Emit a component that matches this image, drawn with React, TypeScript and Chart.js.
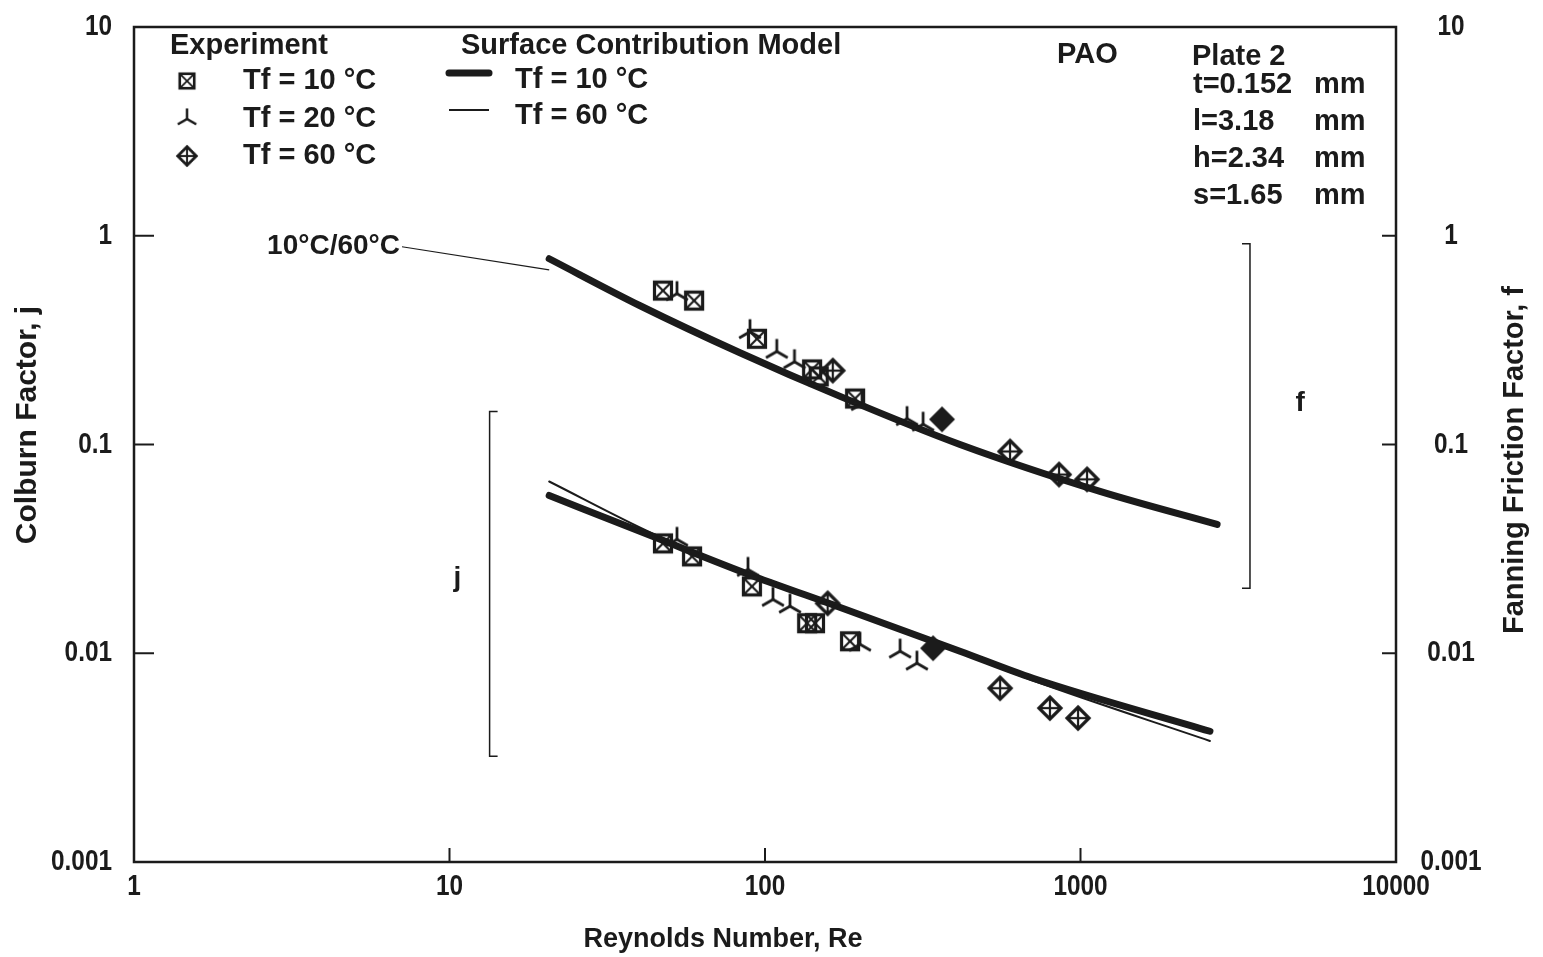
import React, { useEffect, useRef } from 'react';
import { Chart, registerables } from 'chart.js';

Chart.register(...registerables);

// ---------- axis ticks ----------
const xTicks = [1, 10, 100, 1000, 10000];
const xTickLabels = ['1', '10', '100', '1000', '10000'];
const yTicks = [0.001, 0.01, 0.1, 1, 10];
const yTickLabels = ['0.001', '0.01', '0.1', '1', '10'];

// ---------- Surface Contribution Model curves ----------
// friction factor f (10 °C and 60 °C coincide)
const fModelRe = [20.7, 40.2, 83.3, 173, 415, 1153, 2710];
const fModel10 = [0.776, 0.462, 0.275, 0.17, 0.1, 0.0596, 0.0414];
const fModel60 = [0.776, 0.462, 0.275, 0.17, 0.1, 0.0596, 0.0414];
// Colburn factor j
const jModelRe = [20.7, 44, 92, 169, 415, 707, 2572];
const jModel10 = [0.057, 0.0363, 0.0234, 0.0168, 0.01023, 0.00759, 0.00423];
const jModel60 = [0.0665, 0.0375, 0.0235, 0.0167, 0.0101, 0.0074, 0.0038];

// ---------- Experiment: friction factor f ----------
const f10Re = [47.5, 59.6, 94.3, 141, 148, 193];
const f10 = [0.546, 0.489, 0.321, 0.229, 0.212, 0.166];
const f20Re = [52.6, 89.6, 109, 124, 203, 282, 317];
const f20 = [0.528, 0.347, 0.279, 0.249, 0.157, 0.133, 0.125];
const f60Re = [164, 598, 855, 1049];
const f60 = [0.226, 0.0926, 0.0718, 0.0681];
const f60FilledRe = [364];
const f60Filled = [0.132];

// ---------- Experiment: Colburn factor j ----------
const j10Re = [47.5, 58.7, 90.9, 136, 144, 186];
const j10 = [0.0336, 0.0291, 0.0209, 0.01393, 0.01393, 0.01141];
const j20Re = [52.6, 88.3, 106, 120, 200, 268, 303];
const j20 = [0.0351, 0.0252, 0.0181, 0.0168, 0.01104, 0.01023, 0.00896];
const j60Re = [158, 556, 800, 982];
const j60 = [0.01734, 0.0068, 0.00546, 0.00489];
const j60FilledRe = [341];
const j60Filled = [0.01057];

// ---------- annotations (data coordinates) ----------
const jBracketRe = 13.4;
const jBracketRange = [0.00321, 0.144];
const fBracketRe = 3445;
const fBracketRange = [0.0205, 0.916];
const jLabelPos = [10.6, 0.0229];
const fLabelPos = [4966, 0.157];
const leaderFrom = [7.07, 0.886];
const leaderTo = [20.7, 0.687];

const INK = '#1b1b1b';
const FONT = '"Liberation Sans", Arial, Helvetica, sans-serif';

function mk(size: number, draw: (c: CanvasRenderingContext2D, s: number) => void) {
  const cv = document.createElement('canvas');
  cv.width = size;
  cv.height = size;
  const c = cv.getContext('2d')!;
  c.strokeStyle = INK;
  c.fillStyle = INK;
  draw(c, size);
  return cv;
}

function seg(c: CanvasRenderingContext2D, x1: number, y1: number, x2: number, y2: number) {
  c.beginPath();
  c.moveTo(x1, y1);
  c.lineTo(x2, y2);
  c.stroke();
}

function makeMarkers() {
  const boxX = mk(24, (c) => {
    c.lineWidth = 3.2;
    c.strokeRect(3.5, 3.5, 17, 17);
    c.lineWidth = 2.2;
    seg(c, 4, 4, 20, 20);
    seg(c, 20, 4, 4, 20);
  });
  const tri = mk(30, (c) => {
    c.lineWidth = 2.8;
    const cx = 15, cy = 15, r = 12.5;
    seg(c, cx, cy, cx, cy - r);
    seg(c, cx, cy, cx - r * 0.87, cy + r * 0.5);
    seg(c, cx, cy, cx + r * 0.87, cy + r * 0.5);
  });
  const diamond = mk(28, (c) => {
    c.lineWidth = 3.2;
    c.beginPath();
    c.moveTo(14, 3);
    c.lineTo(25, 14);
    c.lineTo(14, 25);
    c.lineTo(3, 14);
    c.closePath();
    c.stroke();
    c.lineWidth = 2.2;
    seg(c, 14, 4, 14, 24);
    seg(c, 4, 14, 24, 14);
  });
  const filled = mk(30, (c) => {
    c.beginPath();
    c.moveTo(15, 2);
    c.lineTo(28, 15);
    c.lineTo(15, 28);
    c.lineTo(2, 15);
    c.closePath();
    c.fill();
  });
  return { boxX, tri, diamond, filled };
}

const pts = (xs: number[], ys: number[]) => xs.map((x, i) => ({ x, y: ys[i] }));

export default function App() {
  const ref = useRef<HTMLCanvasElement>(null);

  useEffect(() => {
    const canvas = ref.current;
    if (!canvas) return;
    const m = makeMarkers();

    const curve = (re: number[], v: number[], w: number) => ({
      type: 'line' as const,
      data: pts(re, v),
      borderColor: INK,
      borderWidth: w,
      borderCapStyle: 'round' as const,
      pointRadius: 0,
      cubicInterpolationMode: 'monotone' as const,
      fill: false,
      order: 2,
    });
    const marks = (re: number[], v: number[], style: HTMLCanvasElement) => ({
      type: 'scatter' as const,
      data: pts(re, v),
      pointStyle: style,
      pointRadius: 10,
      showLine: false,
      order: 1,
    });

    // condensed tick-label text
    const condensed = (ctx: CanvasRenderingContext2D, t: string, x: number, y: number, align: 'left' | 'right' | 'center') => {
      const sx = 0.84;
      ctx.save();
      ctx.translate(x, y);
      ctx.scale(sx, 1);
      ctx.textAlign = align;
      ctx.fillText(t, 0, 0);
      ctx.restore();
    };

    const decor = {
      id: 'decor',
      afterDraw(chart: any) {
        const { ctx, chartArea: a, scales } = chart;
        const X = (v: number) => scales.x.getPixelForValue(v);
        const Y = (v: number) => scales.y.getPixelForValue(v);
        const Y2 = (v: number) => scales.y2.getPixelForValue(v);
        ctx.save();
        ctx.strokeStyle = INK;
        ctx.fillStyle = INK;
        ctx.lineCap = 'butt';

        // frame
        ctx.lineWidth = 2.5;
        ctx.strokeRect(a.left, a.top, a.right - a.left, a.bottom - a.top);

        // inward ticks
        ctx.lineWidth = 2;
        yTicks.slice(1, -1).forEach((v) => {
          seg(ctx, a.left, Y(v), a.left + 20, Y(v));
          seg(ctx, a.right - 14, Y2(v), a.right, Y2(v));
        });
        xTicks.slice(1, -1).forEach((v) => {
          const x = X(v);
          seg(ctx, x, a.bottom, x, a.bottom - 14);
        });

        // tick labels (condensed bold)
        ctx.font = `bold 29px ${FONT}`;
        ctx.textBaseline = 'middle';
        yTicks.forEach((v, i) => {
          condensed(ctx, yTickLabels[i], a.left - 22, Y(v), 'right');
          condensed(ctx, yTickLabels[i], a.right + 55, Y2(v), 'center');
        });
        xTicks.forEach((v, i) => {
          condensed(ctx, xTickLabels[i], X(v), a.bottom + 25, 'center');
        });

        // brackets
        ctx.lineWidth = 1.5;
        const jx = X(jBracketRe);
        const jt = Y(jBracketRange[1]);
        const jb = Y(jBracketRange[0]);
        ctx.beginPath();
        ctx.moveTo(jx + 8, jt);
        ctx.lineTo(jx, jt);
        ctx.lineTo(jx, jb);
        ctx.lineTo(jx + 8, jb);
        ctx.stroke();
        const fx = X(fBracketRe);
        const ft = Y(fBracketRange[1]);
        const fb = Y(fBracketRange[0]);
        ctx.beginPath();
        ctx.moveTo(fx - 8, ft);
        ctx.lineTo(fx, ft);
        ctx.lineTo(fx, fb);
        ctx.lineTo(fx - 8, fb);
        ctx.stroke();

        // leader line
        ctx.lineWidth = 1.2;
        seg(ctx, X(leaderFrom[0]), Y(leaderFrom[1]), X(leaderTo[0]), Y(leaderTo[1]));

        ctx.font = `bold 28px ${FONT}`;
        ctx.textAlign = 'right';
        ctx.fillText('10°C/60°C', X(leaderFrom[0]) - 2, Y(leaderFrom[1]));
        ctx.textAlign = 'center';
        ctx.fillText('j', X(jLabelPos[0]), Y(jLabelPos[1]));
        ctx.fillText('f', X(fLabelPos[0]), Y(fLabelPos[1]));

        // legend: Experiment
        ctx.textAlign = 'left';
        ctx.font = `bold 29px ${FONT}`;
        ctx.fillText('Experiment', 170, 46);
        const expRows: [HTMLCanvasElement, string, number][] = [
          [m.boxX, 'Tf = 10 °C', 81],
          [m.tri, 'Tf = 20 °C', 119],
          [m.diamond, 'Tf = 60 °C', 156],
        ];
        expRows.forEach(([img, label, y]) => {
          const s = 0.85;
          ctx.drawImage(img, 187 - (img.width * s) / 2, y - (img.height * s) / 2, img.width * s, img.height * s);
          ctx.fillText(label, 243, y);
        });

        // legend: model
        ctx.fillText('Surface Contribution Model', 461, 46);
        ctx.lineCap = 'round';
        ctx.lineWidth = 7;
        seg(ctx, 449, 73, 489, 73);
        ctx.lineWidth = 2;
        ctx.lineCap = 'butt';
        seg(ctx, 449, 110, 489, 110);
        ctx.fillText('Tf = 10 °C', 515, 80);
        ctx.fillText('Tf = 60 °C', 515, 116);

        // plate info
        ctx.fillText('PAO', 1057, 55);
        ctx.fillText('Plate 2', 1192, 57);
        const rows: [string, number][] = [
          ['t=0.152', 85],
          ['l=3.18', 122],
          ['h=2.34', 159],
          ['s=1.65', 196],
        ];
        rows.forEach(([t, y]) => {
          ctx.fillText(t, 1193, y);
          ctx.fillText('mm', 1314, y);
        });

        // axis titles
        ctx.font = `bold 27px ${FONT}`;
        ctx.textAlign = 'center';
        ctx.fillText('Reynolds Number, Re', 723, 940);

        ctx.font = `bold 30px ${FONT}`;
        ctx.save();
        ctx.translate(28, 425);
        ctx.rotate(-Math.PI / 2);
        ctx.fillText('Colburn Factor, j', 0, 0);
        ctx.restore();

        ctx.font = `bold 29px ${FONT}`;
        ctx.save();
        ctx.translate(1515, 460);
        ctx.rotate(-Math.PI / 2);
        ctx.fillText('Fanning Friction Factor, f', 0, 0);
        ctx.restore();

        ctx.restore();
      },
    };

    const logAxis = (position: string, min: number, max: number, ticksArr: number[], size: number) => ({
      type: 'logarithmic',
      position,
      min,
      max,
      afterBuildTicks: (s: any) => {
        s.ticks = ticksArr.map((v) => ({ value: v }));
      },
      afterFit: (s: any) => {
        if (position === 'bottom') s.height = size;
        else s.width = size;
      },
      ticks: { display: false, autoSkip: false },
      grid: { display: false, drawTicks: false },
      border: { display: false },
    });

    const chart = new Chart(canvas, {
      type: 'scatter',
      data: {
        datasets: [
          curve(fModelRe, fModel10, 7),
          curve(fModelRe, fModel60, 2),
          curve(jModelRe, jModel10, 7),
          curve(jModelRe, jModel60, 2),
          marks(f10Re, f10, m.boxX),
          marks(f20Re, f20, m.tri),
          marks(f60Re, f60, m.diamond),
          marks(f60FilledRe, f60Filled, m.filled),
          marks(j10Re, j10, m.boxX),
          marks(j20Re, j20, m.tri),
          marks(j60Re, j60, m.diamond),
          marks(j60FilledRe, j60Filled, m.filled),
        ] as any,
      },
      options: {
        animation: false,
        responsive: false,
        events: [],
        layout: { padding: { top: 27, left: 0, right: 0, bottom: 0 } },
        plugins: { legend: { display: false }, tooltip: { enabled: false } },
        scales: {
          x: logAxis('bottom', 1, 10000, xTicks, 95),
          y: logAxis('left', 0.001, 10, yTicks, 134),
          y2: logAxis('right', 0.001, 10, yTicks, 147),
        },
      } as any,
      plugins: [decor],
    });

    return () => chart.destroy();
  }, []);

  return (
    <div style={{ position: 'fixed', left: 0, top: 0, width: 1543, height: 957, background: '#ffffff' }}>
      <canvas ref={ref} width={1543} height={957} style={{ display: 'block', width: 1543, height: 957 }} />
    </div>
  );
}
